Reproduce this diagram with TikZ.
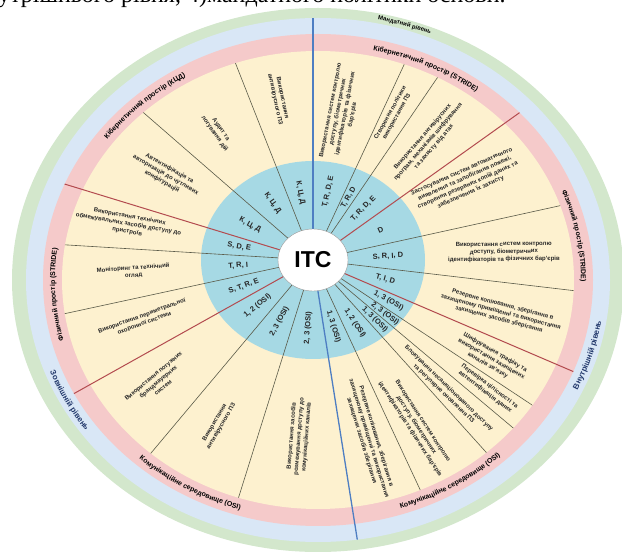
\documentclass[tikz,border=0pt]{standalone}
\usepackage{fontspec}
\setmainfont{Liberation Sans}
\newfontfamily\capfont{Liberation Serif}
\usetikzlibrary{shapes.geometric,decorations.text}

\definecolor{ringgreen}{HTML}{D3E7CC}
\definecolor{ringblue}{HTML}{D9E7F6}
\definecolor{ringpink}{HTML}{F5CACA}
\definecolor{ringyellow}{HTML}{FDF1CF}
\definecolor{hubteal}{HTML}{A6D9E4}
\definecolor{spokegrey}{HTML}{5A5A48}
\definecolor{spokered}{HTML}{B34B4F}
\definecolor{spokeblue}{HTML}{4E7EC2}
\definecolor{levelnavy}{HTML}{22386B}

\newcommand\pinkfont{\fontsize{7}{8}\selectfont\bfseries}
\newcommand\levelfont{\fontsize{8}{9}\selectfont\bfseries}
\newcommand\mandfont{\fontsize{6}{7}\selectfont\bfseries}

\begin{document}
\begin{tikzpicture}[x=1pt, y=1pt,
	spoke/.style={spokegrey, line width=0.6pt},
	redspoke/.style={spokered, line width=1pt},
	bluespoke/.style={spokeblue, line width=1.3pt},
	ytxt/.style={font=\fontsize{6}{7.5}\selectfont\bfseries, align=center, inner sep=0pt, text=black!85},
	ttxt/.style={font=\fontsize{7.5}{9}\selectfont\bfseries, inner sep=0pt, text=black!85},
	bandtxt/.style={decorate, decoration={text along path, text align=center, text={#1}}},
	leveltxt/.style={decorate, decoration={text along path, text align=center, text color=levelnavy, text={#1}}}
	]
	\useasboundingbox (0,0) rectangle (622,552);
	\coordinate (O) at (318,272);
	\coordinate (C) at (313,292);

	\node[anchor=base west, inner sep=0pt, font=\capfont\fontsize{24}{28}\selectfont] (cap) at (-2,549) {утрішнього рівня, 4)мандатного політики основи.};

	\fill[ringgreen] (O) ellipse [x radius=306pt, y radius=272pt];
	\fill[ringblue] (O) ellipse [x radius=292pt, y radius=262pt];
	\fill[ringpink] (O) ellipse [x radius=275pt, y radius=246pt];
	\fill[ringyellow] (O) ellipse [x radius=256pt, y radius=229pt];
	\fill[hubteal] (C) ellipse [x radius=112pt, y radius=99pt];

	\begin{scope}
		\clip (O) ellipse [x radius=256pt, y radius=229pt];
		\foreach \a in {65,55.7,12.4,-6.7,-33.5,-40,-48,-65,111.5,139,176.5,192.2,230,252.6}
			\draw[spoke] (C) -- ++(\a:400pt);
	\end{scope}
	\begin{scope}
		\clip (O) ellipse [x radius=275pt, y radius=246pt];
		\foreach \a in {35.5,-23.2,163,209.2}
			\draw[redspoke] (C) -- ++(\a:400pt);
	\end{scope}
	\begin{scope}
		\clip (O) ellipse [x radius=292pt, y radius=262pt];
		\draw[bluespoke] (C) -- ++(90:400pt);
		\draw[bluespoke] (C) -- ++(-81:400pt);
	\end{scope}

	\node[draw=black!40, fill=white, ellipse, minimum width=70pt, minimum height=62pt, inner sep=0pt, font=\fontsize{23}{26}\selectfont\bfseries] (itc) at (C) {ITC};

	\foreach \a/\d/\r/\t [count=\i] in {77.5/70/77.5/{T, R, D, E}, 60.4/72/60.4/{T, R, D}, 45.6/72/45.6/{T, R, D, E}, 24/74/24/D, 2.9/75/2.9/{S, R, I, D}, -15/75/-15/{T, I, D}, -28.4/86/-28.4/{1, 3 (OSI)}, -36.8/90/-36.8/{2, 3 (OSI)}, -44/86/-44/{1, 3 (OSI)}, -56.5/76/-56.5/{1, 2 (OSI)}, -73/70/-73/{1, 3 (OSI)}, -94.2/68/85.8/{2, 3 (OSI)}, -118.7/70/61.3/{2, 3 (OSI)}, -140.4/72/39.6/{1, 2 (OSI)}, 200.7/74/20.7/{S, T, R, E}, 184.3/75/4.3/{T, R, I}, 169.7/75/-10.3/{S, D, E}, 151/72/-29/{К, Ц, Д}, 125.2/70/-54.8/{К, Ц, Д}, 100.7/68/-79.3/{К, Ц, Д}}
		\node[ttxt, rotate=\r] (t\i) at ([shift={(\a:\d pt)}]C) {\t};

	\node[ytxt, rotate=79] (y1) at ([shift={(79:150pt)}]C) {Використання систем контролю\\доступу, біометричних\\ідентифікаторів та фізичних\\бар'єрів};
	\node[ytxt, rotate=61] (y2) at ([shift={(61:166pt)}]C) {Створення політики\\використання ПЗ};
	\node[ytxt, rotate=49] (y3) at ([shift={(45.7:165pt)}]C) {Використання антивірусних\\програм, механізмів шифрування\\та захисту від атак};
	\node[ytxt, rotate=24] (y4) at ([shift={(27:172pt)}]C) {Застосування систем автоматичного\\виявлення та запобігання пожежі,\\створення резервних копій даних та\\забезпечення їх захисту};
	\node[ytxt, rotate=1] (y5) at ([shift={(2.4:191pt)}]C) {Використання систем контролю\\доступу, біометричних\\ідентифікаторів та фізичних бар'єрів};
	\node[ytxt, rotate=-15] (y6) at ([shift={(-15.5:195pt)}]C) {Резервне копіювання, зберігання в\\захищеному приміщенні та використання\\захищених засобів зберігання};
	\node[ytxt, rotate=-30] (y7) at ([shift={(-29:204pt)}]C) {Шифрування трафіку та\\використання захищених\\каналів зв'язку};
	\node[ytxt, rotate=-37] (y8) at ([shift={(-36.5:217pt)}]C) {Перевірка цілісності та\\автентифікація даних};
	\node[ytxt, rotate=-44] (y9) at ([shift={(-44.5:187pt)}]C) {Блокування несанкціонованого доступу\\та регулярне оновлення ПЗ};
	\node[ytxt, rotate=-57] (y10) at ([shift={(-58:195pt)}]C) {Використання систем контролю\\доступу, біометричних\\ідентифікаторів та фізичних бар'єрів};
	\node[ytxt, rotate=-73] (y11) at ([shift={(-72.6:187pt)}]C) {Резервне копіювання, зберігання в\\захищеному приміщенні та використання\\захищених засобів зберігання};
	\node[ytxt, rotate=85.5] (y12) at ([shift={(-94.5:177pt)}]C) {Використання засобів\\розмежування доступу до\\комунікаційних каналів};
	\node[ytxt, rotate=60] (y13) at ([shift={(-120:190pt)}]C) {Використання\\антивірусного ПЗ};
	\node[ytxt, rotate=40] (y14) at ([shift={(-141.8:197pt)}]C) {Використання потужних\\брандмауерних\\систем};
	\node[ytxt, rotate=20] (y15) at ([shift={(199.4:180pt)}]C) {Використання периметральної\\охоронної системи};
	\node[ytxt, rotate=4] (y16) at ([shift={(183.8:180pt)}]C) {Моніторинг та технічний\\огляд};
	\node[ytxt, rotate=-10] (y17) at ([shift={(169:188pt)}]C) {Використання технічних\\обмежувальних засобів доступу до\\пристроїв};
	\node[ytxt, rotate=-30] (y18) at ([shift={(150:170pt)}]C) {Автентифікація та\\авторизація до чутливих\\конфігурацій};
	\node[ytxt, rotate=-55] (y19) at ([shift={(126.6:160pt)}]C) {Аудит та\\логування дій};
	\node[ytxt, rotate=-78] (y20) at ([shift={(102:165pt)}]C) {Використання\\антивірусного ПЗ};

	\path[bandtxt={|\pinkfont|Кібернетичний простір (КЦД)}] ([shift={(165:263pt and 235pt)}]O) arc[start angle=165, end angle=100, x radius=263pt, y radius=235pt];
	\path[bandtxt={|\pinkfont|Кібернетичний простір (STRIDE)}] ([shift={(95:263pt and 235pt)}]O) arc[start angle=95, end angle=35, x radius=263pt, y radius=235pt];
	\path[bandtxt={|\pinkfont|Фізичний простір (STRIDE)}] ([shift={(45:263pt and 235pt)}]O) arc[start angle=45, end angle=-24, x radius=263pt, y radius=235pt];
	\path[bandtxt={|\pinkfont|Фізичний простір (STRIDE)}] ([shift={(215:263pt and 235pt)}]O) arc[start angle=215, end angle=152, x radius=263pt, y radius=235pt];
	\path[bandtxt={|\pinkfont|Комунікаційне середовище (OSI)}] ([shift={(-90:268pt and 240pt)}]O) arc[start angle=-90, end angle=-28, x radius=268pt, y radius=240pt];
	\path[bandtxt={|\pinkfont|Комунікаційне середовище (OSI)}] ([shift={(-152:268pt and 240pt)}]O) arc[start angle=-152, end angle=-88, x radius=268pt, y radius=240pt];

	\path[bandtxt={|\mandfont|Мандатний рівень}] ([shift={(88:297.5pt and 265.5pt)}]O) arc[start angle=88, end angle=58, x radius=297.5pt, y radius=265.5pt];
	\path[leveltxt={|\levelfont|Внутрішній рівень}] ([shift={(-42:287pt and 257pt)}]O) arc[start angle=-42, end angle=8, x radius=287pt, y radius=257pt];
	\path[leveltxt={|\levelfont|Зовнішній рівень}] ([shift={(183:287pt and 257pt)}]O) arc[start angle=183, end angle=233, x radius=287pt, y radius=257pt];
\end{tikzpicture}
\end{document}
